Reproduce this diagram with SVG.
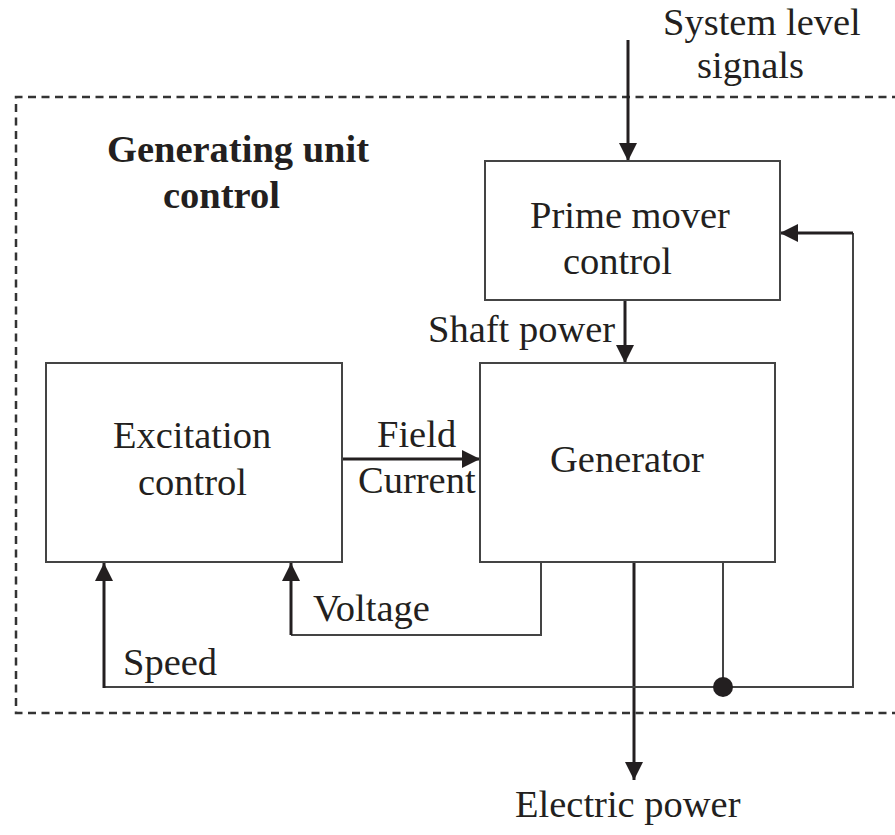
<svg xmlns="http://www.w3.org/2000/svg" width="895" height="835" viewBox="0 0 895 835">
<style>
  .box { fill: #fff; stroke: #444; stroke-width: 2; }
  .t { font-family: "Liberation Serif", "Times New Roman", serif; font-size: 38.5px; fill: #231f20; }
  .tb { font-family: "Liberation Serif", "Times New Roman", serif; font-size: 38.5px; font-weight: bold; fill: #231f20; }
  .thick { fill: none; stroke: #231f20; stroke-width: 3; }
  .thin { fill: none; stroke: #444; stroke-width: 2; }
  .dash { fill: none; stroke: #333; stroke-width: 2.5; stroke-dasharray: 8 5.5; }
</style>
<defs>
  <marker id="ah" viewBox="0 0 18 18" refX="18" refY="9" markerWidth="18" markerHeight="18" markerUnits="userSpaceOnUse" orient="auto">
    <path d="M0,0 L18,9 L0,18 Z" fill="#231f20"/>
  </marker>
</defs>
<rect width="895" height="835" fill="#fff"/>
<g id="boundary">
  <path class="dash" d="M900,97 L16,97 L16,713 L900,713"/>
  <text class="tb" x="107" y="162">Generating unit</text>
  <text class="tb" x="163" y="208">control</text>
</g>
<g id="connectors">
  <line class="thick" x1="628" y1="40" x2="628" y2="161" marker-end="url(#ah)"/>
  <line class="thick" x1="625" y1="300" x2="625" y2="363" marker-end="url(#ah)"/>
  <line class="thick" x1="342" y1="459" x2="480" y2="459" marker-end="url(#ah)"/>
  <line class="thick" x1="634" y1="562" x2="634" y2="780" marker-end="url(#ah)"/>
  <polyline class="thin" points="541,562 541,635 291,635"/>
  <line class="thick" x1="291" y1="635" x2="291" y2="563" marker-end="url(#ah)"/>
  <polyline class="thin" points="723,562 723,687"/>
  <polyline class="thin" points="104,687 853,687 853,233"/>
  <line class="thick" x1="104" y1="688" x2="104" y2="563" marker-end="url(#ah)"/>
  <line class="thick" x1="853" y1="233" x2="780" y2="233" marker-end="url(#ah)"/>
  <circle cx="723" cy="687" r="10" fill="#231f20"/>
</g>
<g id="prime-mover">
  <rect class="box" x="485" y="161" width="295" height="139"/>
  <text class="t" x="530" y="228">Prime mover</text>
  <text class="t" x="563" y="274">control</text>
</g>
<g id="excitation">
  <rect class="box" x="46" y="363" width="296" height="199"/>
  <text class="t" x="113" y="448">Excitation</text>
  <text class="t" x="138" y="495">control</text>
</g>
<g id="generator">
  <rect class="box" x="480" y="363" width="295" height="199"/>
  <text class="t" x="550" y="472">Generator</text>
</g>
<g id="labels">
  <text class="t" x="663" y="35">System level</text>
  <text class="t" x="697" y="78">signals</text>
  <text class="t" x="428" y="342">Shaft power</text>
  <text class="t" x="377" y="447">Field</text>
  <text class="t" x="358" y="493">Current</text>
  <text class="t" x="313" y="621">Voltage</text>
  <text class="t" x="123" y="675">Speed</text>
  <text class="t" x="515" y="817">Electric power</text>
</g>
</svg>
